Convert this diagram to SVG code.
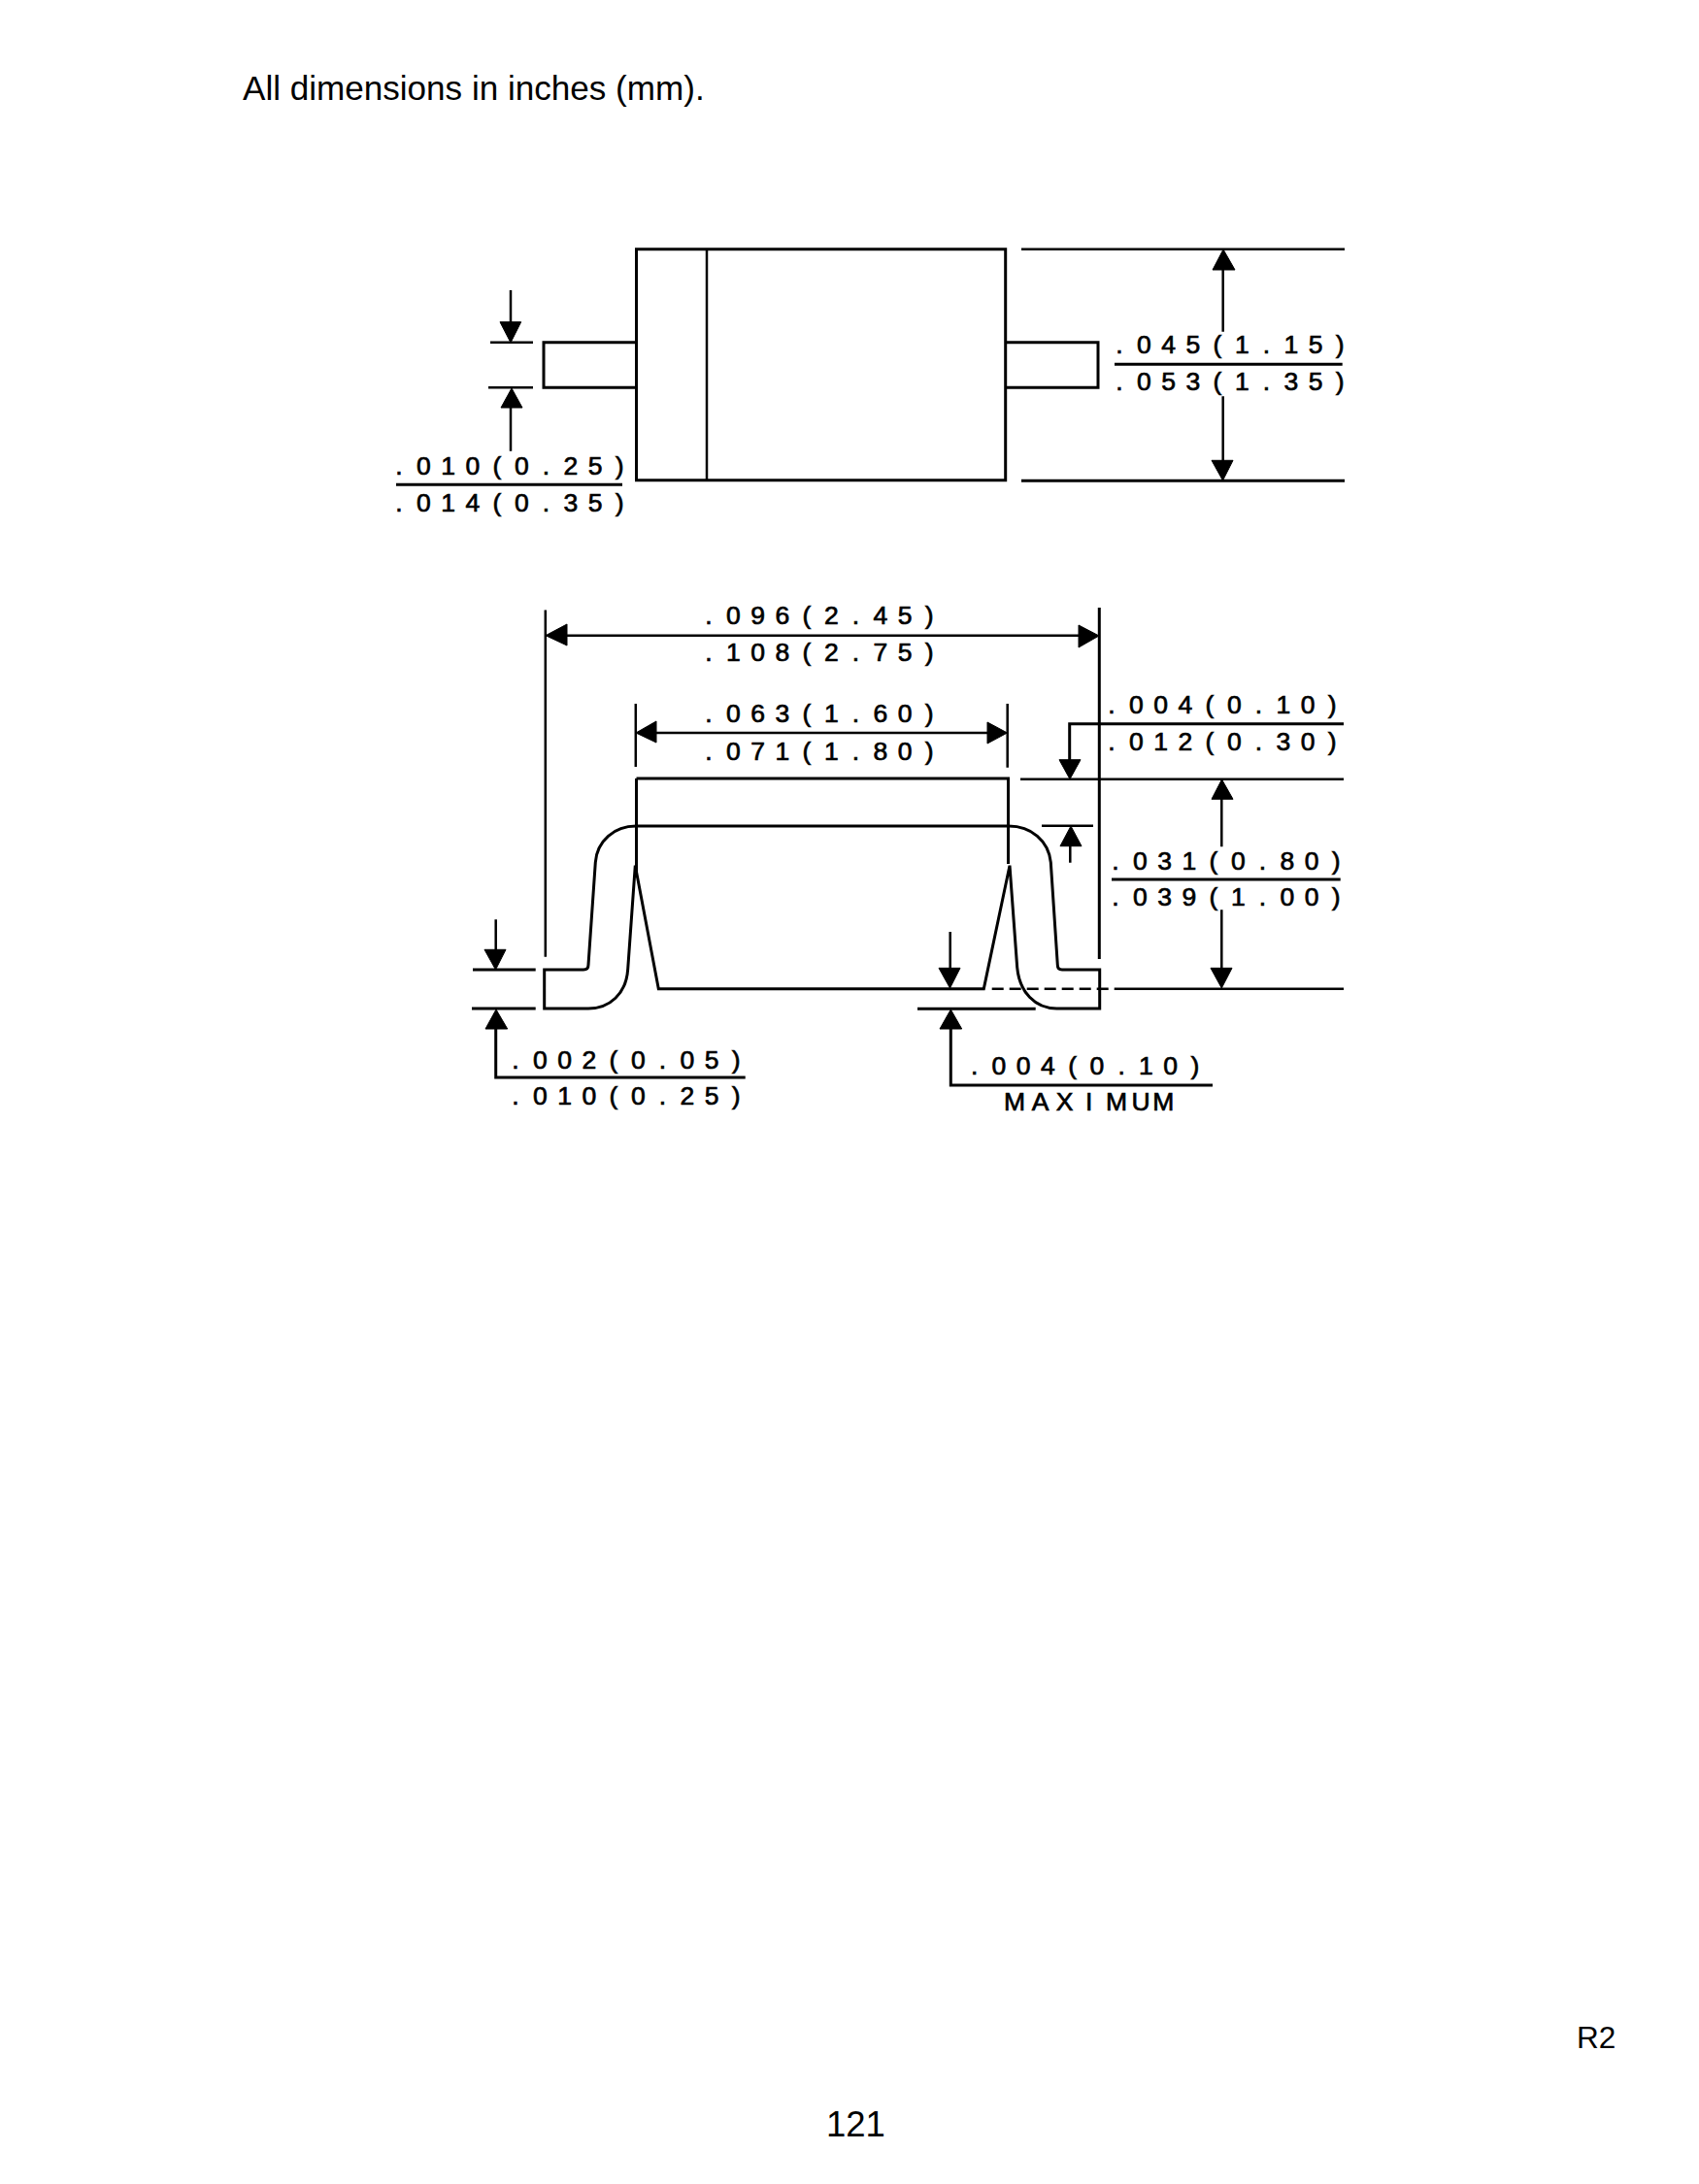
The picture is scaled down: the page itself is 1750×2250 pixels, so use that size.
<svg xmlns="http://www.w3.org/2000/svg" width="1750" height="2250" viewBox="0 0 1750 2250">
<style>
text{font-family:"Liberation Sans",Arial,sans-serif;fill:#000}
.d{font-size:26.5px;text-anchor:middle;stroke:#000;stroke-width:.7px}
.p{font-size:35.1px}
.l{fill:none;stroke:#000;stroke-width:3}
.t{fill:none;stroke:#000;stroke-width:2.5}
.h{fill:#000;stroke:#000;stroke-width:1}
</style>
<rect width="1750" height="2250" fill="#fff"/>
<text id="title" class="p" x="250" y="102.7">All dimensions in inches (mm).</text>
<g id="top-view">
<path class="l" d="M655.5 256.7H1035.7V494.7H655.5Z"/>
<path class="t" d="M728 256.7V494.7"/>
<path class="l" d="M655.5 352.7H560V399.3H655.5M1035.7 352.7H1131V399.3H1035.7"/>
</g>
<g id="side-view">
<path class="l" d="M655.5 851H1039M655.5 802H1038.5V890M655.5 802V900"/>
<path class="l" d="M655 851C633 851 615 866 613.3 888.3L606 994Q606 999 601 999H560.7V1039H606C628 1039 645 1024 646.7 998.3L654.3 891.7L678.3 1018.7H1013.3L1040 891.7L1047.7 996.7C1050 1022 1066 1039 1088.3 1039H1132.7V999H1094Q1089.3 999 1089.3 994L1082.3 888.3C1080 866 1062 851 1039 851"/>
<path class="t" d="M1021.7 1018.7H1152" stroke-dasharray="12 6"/>
</g>
<g id="connectors">
<path class="t" d="M505 352.7H549M503 399.3H549M1052 256.7H1385M526 299V335M526 418V464.7M1259.7 275V341.7M1259.7 408.3V477"/>
<path class="l" d="M1052 495.3H1385M408 499.3H641M1148 375.3H1382.7"/>
<path class="t" d="M561.8 628.4V985.7M654.8 725V790M1037.7 725V790.7M580 654.7H1115M672 755H1020"/>
<path class="l" d="M1132.3 626V988"/>
<path class="l" d="M1101.7 785V745.7H1384"/>
<path class="t" d="M1051 802.7H1384M1073 850.7H1126M1102.3 870V888.7M1258.3 820V872.3M1258.3 937.3V1000"/>
<path class="t" d="M1152 1018.7H1384"/>
<path class="l" d="M487 999H551.7M486 1039H551.7M945 1039.3H1066.7M1145 906H1380.7"/>
<path class="t" d="M510.7 947.3V982M978.7 960V1000"/>
<path class="l" d="M510.7 1058V1110H767.7M979.3 1058V1118H1249"/>
<polygon class="h" points="515,331.7 536.7,331.7 526,353"/>
<polygon class="h" points="516,420 538,420 527,400"/>
<polygon class="h" points="1249,278 1272,278 1260,257"/>
<polygon class="h" points="1248,474.3 1270,474.3 1259.5,495"/>
<polygon class="h" points="584,643 584,665 562,654.7"/>
<polygon class="h" points="1111,644 1111,667 1132,655"/>
<polygon class="h" points="676,743 676,765 655,755"/>
<polygon class="h" points="1017,744 1017,766 1037.5,755"/>
<polygon class="h" points="1091,782.7 1113,782.7 1102,802.7"/>
<polygon class="h" points="1248,823.3 1270,823.3 1258.5,803"/>
<polygon class="h" points="1092,871.7 1114,871.7 1103,851"/>
<polygon class="h" points="1247,997.3 1269,997.3 1258.3,1018"/>
<polygon class="h" points="499,978.3 521,978.3 510.5,999"/>
<polygon class="h" points="500,1060 522.7,1060 511,1040"/>
<polygon class="h" points="967,997.3 989,997.3 978.5,1018"/>
<polygon class="h" points="968,1060 990.7,1060 979.3,1040"/>
</g>
<g id="labels">
<text class="d" x="411 436.25 461.5 486.75 512 537.25 562.5 587.75 613 638.25" y="488.7">.010(0.25)</text>
<text class="d" x="411 436.25 461.5 486.75 512 537.25 562.5 587.75 613 638.25" y="526.7">.014(0.35)</text>
<text class="d" x="1153 1178.25 1203.5 1228.75 1254 1279.25 1304.5 1329.75 1355 1380.25" y="364.3">.045(1.15)</text>
<text class="d" x="1153 1178.25 1203.5 1228.75 1254 1279.25 1304.5 1329.75 1355 1380.25" y="402.3">.053(1.35)</text>
<text class="d" x="730 755.25 780.5 805.75 831 856.25 881.5 906.75 932 957.25" y="642.7">.096(2.45)</text>
<text class="d" x="730 755.25 780.5 805.75 831 856.25 881.5 906.75 932 957.25" y="681">.108(2.75)</text>
<text class="d" x="730 755.25 780.5 805.75 831 856.25 881.5 906.75 932 957.25" y="744.3">.063(1.60)</text>
<text class="d" x="730 755.25 780.5 805.75 831 856.25 881.5 906.75 932 957.25" y="782.7">.071(1.80)</text>
<text class="d" x="1145 1170.25 1195.5 1220.75 1246 1271.25 1296.5 1321.75 1347 1372.25" y="735">.004(0.10)</text>
<text class="d" x="1145 1170.25 1195.5 1220.75 1246 1271.25 1296.5 1321.75 1347 1372.25" y="772.7">.012(0.30)</text>
<text class="d" x="1149 1174.25 1199.5 1224.75 1250 1275.25 1300.5 1325.75 1351 1376.25" y="895.7">.031(0.80)</text>
<text class="d" x="1149 1174.25 1199.5 1224.75 1250 1275.25 1300.5 1325.75 1351 1376.25" y="933.3">.039(1.00)</text>
<text class="d" x="531 556.25 581.5 606.75 632 657.25 682.5 707.75 733 758.25" y="1100.7">.002(0.05)</text>
<text class="d" x="531 556.25 581.5 606.75 632 657.25 682.5 707.75 733 758.25" y="1138.3">.010(0.25)</text>
<text class="d" x="1003.7 1028.95 1054.2 1079.45 1104.7 1129.95 1155.2 1180.45 1205.7 1230.95" y="1106.7">.004(0.10)</text>
<text class="d" x="1045 1071.7 1096.7 1121.7 1150 1175 1198.3" y="1144.3">MAXIMUM</text>
</g>
<text id="rev" x="1624" y="2109.5" style="font-size:31.5px">R2</text>
<text id="page" x="851" y="2200.5" style="font-size:36.5px">121</text>
</svg>
